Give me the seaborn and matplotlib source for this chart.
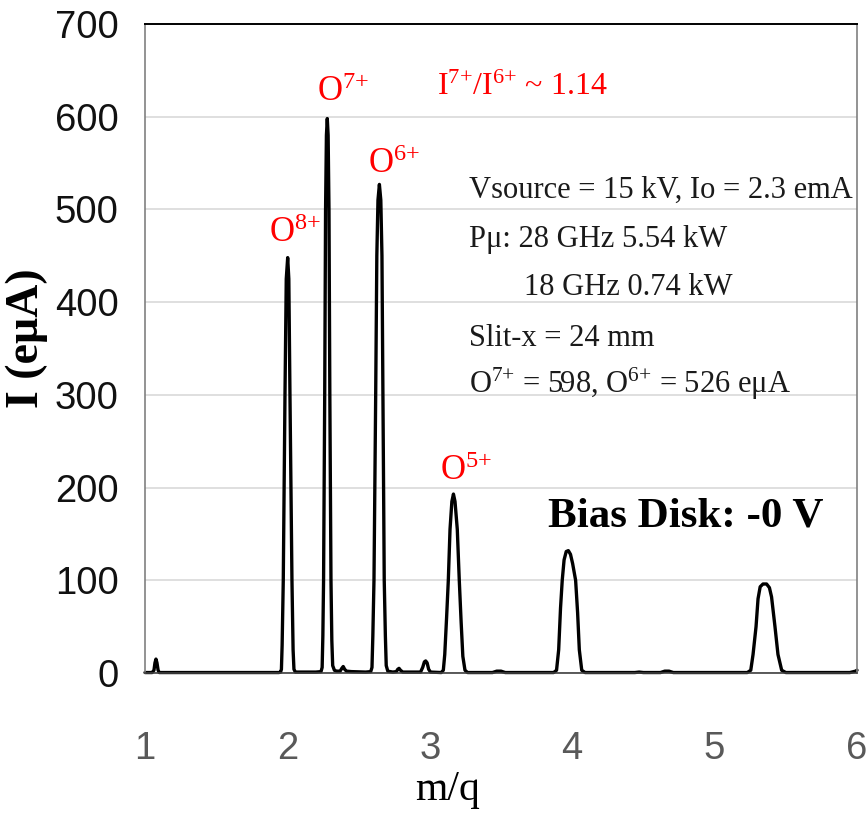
import matplotlib
matplotlib.use("Agg")
import matplotlib.pyplot as plt
import seaborn as sns
import pandas as pd
from matplotlib import font_manager

# ---------------- data ----------------
seg_start = [(1.00, 0.5), (1.05, 0.5), (1.063, 3), (1.070, 11), (1.077, 15), (1.084, 11),
             (1.092, 3), (1.10, 0.5), (1.50, 0.5), (1.94, 0.5)]
peak_O8 = [(1.952, 1), (1.958, 4), (1.963, 30), (1.971, 100), (1.983, 300), (1.992, 425),
           (2.002, 448), (2.010, 425), (2.018, 300), (2.032, 100), (2.040, 25), (2.046, 4),
           (2.056, 1), (2.20, 1)]
peak_O7 = [(2.236, 1.5), (2.244, 6), (2.249, 40), (2.254, 100), (2.262, 300), (2.268, 500),
           (2.274, 580), (2.280, 598), (2.286, 580), (2.292, 500), (2.298, 300), (2.306, 100),
           (2.312, 35), (2.318, 8), (2.330, 3), (2.345, 2)]
bump_a = [(2.370, 2), (2.382, 5), (2.392, 7), (2.402, 4), (2.415, 2), (2.45, 1.5),
          (2.55, 1), (2.585, 1.5)]
peak_O6 = [(2.594, 6), (2.600, 40), (2.608, 100), (2.620, 300), (2.628, 450), (2.636, 510),
           (2.646, 527), (2.656, 510), (2.664, 450), (2.671, 300), (2.680, 100), (2.688, 40),
           (2.694, 8), (2.705, 2), (2.74, 1)]
bump_b = [(2.765, 1.5), (2.775, 4), (2.784, 5), (2.794, 3), (2.81, 1), (2.935, 1),
          (2.950, 6), (2.962, 12), (2.971, 13), (2.981, 11), (2.992, 4), (3.005, 1), (3.08, 0.5)]
peak_O5 = [(3.095, 3), (3.105, 20), (3.118, 60), (3.130, 100), (3.142, 155), (3.155, 185),
           (3.166, 193), (3.177, 185), (3.193, 155), (3.207, 100), (3.220, 55), (3.232, 18),
           (3.247, 3), (3.265, 0.5), (3.44, 0.5), (3.47, 2), (3.50, 2), (3.53, 0.5), (3.87, 0.5)]
peak_O4 = [(3.89, 3), (3.905, 25), (3.918, 70), (3.930, 100), (3.943, 122), (3.958, 131),
           (3.973, 132), (3.988, 128), (4.003, 118), (4.024, 100), (4.038, 65), (4.050, 25),
           (4.067, 3), (4.09, 0.5), (4.44, 0.5), (4.47, 1), (4.50, 0.5), (4.62, 0.5),
           (4.65, 2), (4.68, 2), (4.71, 0.5), (5.23, 0.5)]
peak_O3 = [(5.254, 3), (5.270, 20), (5.291, 50), (5.305, 80), (5.320, 93), (5.340, 96),
           (5.365, 96), (5.385, 92), (5.400, 82), (5.424, 50), (5.445, 20), (5.471, 3),
           (5.50, 0.5), (5.95, 0.5), (5.99, 2), (6.00, 3)]

x_ticks = [1, 2, 3, 4, 5, 6]
y_ticks = [0, 100, 200, 300, 400, 500, 600, 700]

ion_labels = ["O$^{8{+}}$", "O$^{7{+}}$", "O$^{6{+}}$", "O$^{5{+}}$"]
ion_label_xy = [(1.871, 465), (2.206, 617), (2.568, 539), (3.072, 208)]

info_lines = ["Vsource = 15 kV, Io = 2.3 emA", "Pμ: 28 GHz 5.54 kW", "18 GHz 0.74 kW",
              "Slit-x = 24 mm", "O$^{7{+}}$ = 598, O$^{6{+}}$ = 526 eμA"]
info_xy = [(3.275, 513), (3.275, 460), (3.665, 408), (3.275, 353), (3.275, 302)]

ratio_text = "I$^{7{+}}$/I$^{6{+}}$ ~ 1.14"
bias_text = "Bias Disk: -0 V"

# ---------------- style ----------------
sns.set_theme(style="white")
names = {f.name for f in font_manager.fontManager.ttflist}
tick_font = "Liberation Sans Narrow" if "Liberation Sans Narrow" in names else "Liberation Sans"
plt.rcParams["font.family"] = ["Liberation Serif", "DejaVu Serif"]
plt.rcParams["mathtext.fontset"] = "custom"
plt.rcParams["mathtext.rm"] = "Liberation Serif"
plt.rcParams["mathtext.it"] = "Liberation Serif:italic"
plt.rcParams["mathtext.bf"] = "Liberation Serif:bold"

points = seg_start + peak_O8 + peak_O7 + bump_a + peak_O6 + bump_b + peak_O5 + peak_O4 + peak_O3
df = pd.DataFrame(points, columns=["mq", "I"])

fig = plt.figure(figsize=(8.66, 8.16), dpi=100)
ax = fig.add_axes([145 / 866, 1 - 673 / 816, 712 / 866, 649 / 816])

sns.lineplot(data=df, x="mq", y="I", ax=ax, color="black", linewidth=2.4,
             sort=False, estimator=None)
for ln in ax.lines:
    ln.set_clip_on(False)
    ln.set_solid_joinstyle("round")

ax.set_xlim(1, 6)
ax.set_ylim(0, 700)
ax.set_xticks(x_ticks)
ax.set_yticks(y_ticks)
ax.yaxis.grid(True, color="#d9d9d9", linewidth=1.2)
ax.xaxis.grid(False)
ax.set_axisbelow(True)

ax.tick_params(axis="both", length=0, labelsize=27.5)
ax.tick_params(axis="y", pad=19, labelcolor="#111111")
ax.tick_params(axis="x", pad=42, labelcolor="#595959")
for lab in ax.get_xticklabels() + ax.get_yticklabels():
    lab.set_fontfamily(tick_font)

ax.spines["top"].set_color("black")
ax.spines["top"].set_linewidth(1.4)
for s in ["left", "right"]:
    ax.spines[s].set_color("#808080")
    ax.spines[s].set_linewidth(1.2)
ax.spines["bottom"].set_color("#404040")
ax.spines["bottom"].set_linewidth(1.2)

ax.set_xlabel("m/q", fontsize=30, color="black")
ax.xaxis.set_label_coords((448 - 145) / 712, -(790 - 673) / 649)
ax.xaxis.label.set_va("center")
ax.set_ylabel("I (eμA)", fontsize=33, fontweight="bold", color="black")
ax.yaxis.set_label_coords(-(145 - 27) / 712, (673 - 338) / 649)
ax.yaxis.label.set_va("center")

for txt, (x, y) in zip(ion_labels, ion_label_xy):
    ax.text(x, y, txt, color="#ff0000", fontsize=25, ha="left", va="baseline")

ax.text(3.051, 623, ratio_text, color="#ff0000", fontsize=23, ha="left", va="baseline")

for txt, (x, y) in zip(info_lines, info_xy):
    ax.text(x, y, txt, color="#1a1a1a", fontsize=22, ha="left", va="baseline")

ax.text(3.830, 158, bias_text, color="black", fontsize=31, fontweight="bold",
        ha="left", va="baseline")

fig.savefig("out.png", dpi=100)
